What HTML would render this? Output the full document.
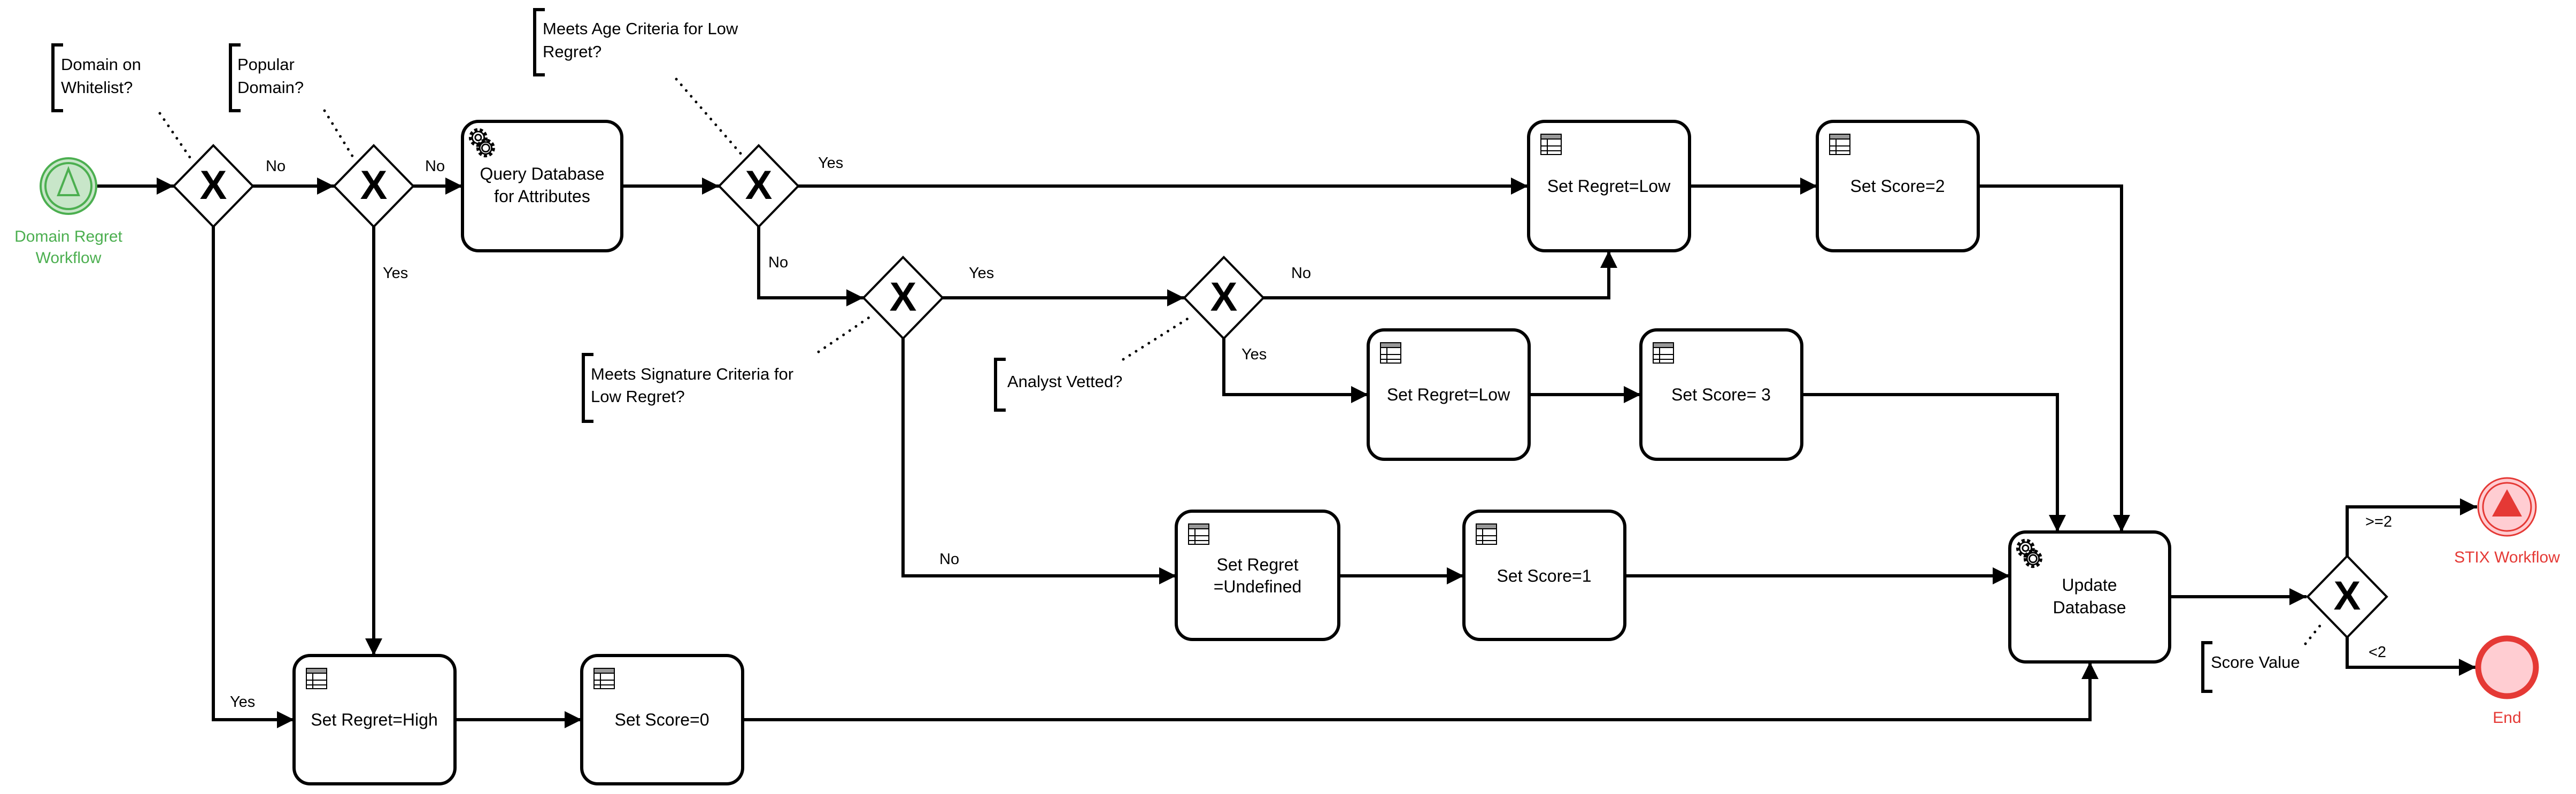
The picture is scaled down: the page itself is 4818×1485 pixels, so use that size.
<!DOCTYPE html>
<html><head><meta charset="utf-8"><style>
html,body{margin:0;padding:0;background:#fff;}
svg{display:block;}
text{font-family:"Liberation Sans",sans-serif;}
</style></head><body>
<svg width="4818" height="1485" viewBox="0 0 4818 1485" xmlns="http://www.w3.org/2000/svg">
<defs>
<marker id="a" markerUnits="userSpaceOnUse" markerWidth="40" markerHeight="40" refX="34" refY="20" orient="auto">
<path d="M2,4 L34,20 L2,36 Z" fill="#000"/>
</marker>
<g id="tbl">
<rect x="0" y="0" width="38" height="9" fill="#999" stroke="#000" stroke-width="2"/>
<rect x="0" y="9" width="38" height="29" fill="#fff" stroke="#000" stroke-width="2"/>
<line x1="0" y1="22" x2="38" y2="22" stroke="#000" stroke-width="2"/>
<line x1="0" y1="31" x2="38" y2="31" stroke="#000" stroke-width="2"/>
<line x1="12" y1="9" x2="12" y2="38" stroke="#000" stroke-width="2"/>
</g>
<g id="gear" fill="none" stroke="#000" stroke-width="2" transform="scale(1.4)">
<circle cx="16" cy="18" r="10" stroke-dasharray="4 3" stroke-width="5"/>
<circle cx="16" cy="18" r="8" fill="#fff"/>
<circle cx="16" cy="18" r="4"/>
<circle cx="26" cy="32" r="10" stroke-dasharray="4 3" stroke-width="5"/>
<circle cx="26" cy="32" r="8" fill="#fff"/>
<circle cx="26" cy="32" r="5"/>
</g>
<g id="dia">
<polygon points="0,-76 74,0 0,76 -74,0" fill="#fff" stroke="#000" stroke-width="4"/>
<text x="0" y="24" text-anchor="middle" font-size="76" font-weight="bold">X</text>
</g>
</defs>

<g fill="none" stroke="#000" stroke-width="6">
<line x1="182" y1="348" x2="325" y2="348" marker-end="url(#a)"/>
<line x1="473" y1="348" x2="625" y2="348" marker-end="url(#a)"/>
<line x1="773" y1="348" x2="865" y2="348" marker-end="url(#a)"/>
<line x1="1163" y1="348" x2="1345" y2="348" marker-end="url(#a)"/>
<line x1="1493" y1="348" x2="2858" y2="348" marker-end="url(#a)"/>
<line x1="3160" y1="348" x2="3399" y2="348" marker-end="url(#a)"/>
<polyline points="3700,348 3968,348 3968,995" marker-end="url(#a)"/>
<polyline points="1419,424 1419,557 1615,557" marker-end="url(#a)"/>
<line x1="1763" y1="557" x2="2215" y2="557" marker-end="url(#a)"/>
<polyline points="2363,557 3009,557 3009,469" marker-end="url(#a)"/>
<polyline points="2289,633 2289,738 2559,738" marker-end="url(#a)"/>
<line x1="2860" y1="738" x2="3069" y2="738" marker-end="url(#a)"/>
<polyline points="3370,738 3848,738 3848,995" marker-end="url(#a)"/>
<polyline points="1689,633 1689,1077 2200,1077" marker-end="url(#a)"/>
<line x1="2504" y1="1077" x2="2738" y2="1077" marker-end="url(#a)"/>
<line x1="3039" y1="1077" x2="3759" y2="1077" marker-end="url(#a)"/>
<polyline points="399,424 399,1346 550,1346" marker-end="url(#a)"/>
<line x1="699" y1="424" x2="699" y2="1226" marker-end="url(#a)"/>
<line x1="851" y1="1346" x2="1088" y2="1346" marker-end="url(#a)"/>
<polyline points="1389,1346 3909,1346 3909,1238" marker-end="url(#a)"/>
<line x1="4058" y1="1116" x2="4314" y2="1116" marker-end="url(#a)"/>
<polyline points="4390,1040 4390,948 4633,948" marker-end="url(#a)"/>
<polyline points="4390,1192 4390,1248 4631,1248" marker-end="url(#a)"/>
</g>

<g stroke="#000" stroke-width="5" stroke-linecap="round" stroke-dasharray="0.1 14" fill="none">
<line x1="299" y1="212" x2="357" y2="297"/>
<line x1="607" y1="207" x2="661" y2="295"/>
<line x1="1265" y1="148" x2="1386" y2="288"/>
<line x1="1531" y1="658" x2="1631" y2="590"/>
<line x1="2101" y1="672" x2="2231" y2="590"/>
<line x1="4312" y1="1204" x2="4345" y2="1163"/>
</g>

<g fill="none" stroke="#000" stroke-width="6">
<polyline points="118,84 99,84 99,207 118,207"/>
<polyline points="450,84 431,84 431,207 450,207"/>
<polyline points="1019,18 1000,18 1000,140 1019,140"/>
<polyline points="1110,663 1091,663 1091,788 1110,788"/>
<polyline points="1881,672 1862,672 1862,767 1881,767"/>
<polyline points="4138,1202 4120,1202 4120,1293 4138,1293"/>
</g>
<g font-size="31" fill="#000">
<text x="114" y="131">Domain on</text><text x="114" y="174">Whitelist?</text>
<text x="444" y="131">Popular</text><text x="444" y="174">Domain?</text>
<text x="1015" y="64">Meets Age Criteria for Low</text><text x="1015" y="107">Regret?</text>
<text x="1105" y="710">Meets Signature Criteria for</text><text x="1105" y="752">Low Regret?</text>
<text x="1884" y="724">Analyst Vetted?</text>
<text x="4135" y="1249">Score Value</text>
</g>

<g font-size="29" fill="#000">
<text x="497" y="320">No</text>
<text x="795" y="320">No</text>
<text x="716" y="520">Yes</text>
<text x="1530" y="314">Yes</text>
<text x="1437" y="500">No</text>
<text x="1812" y="520">Yes</text>
<text x="2415" y="520">No</text>
<text x="2322" y="672">Yes</text>
<text x="1757" y="1055">No</text>
<text x="430" y="1322">Yes</text>
<text x="4424" y="985">&gt;=2</text>
<text x="4430" y="1229">&lt;2</text>
</g>

<use href="#dia" x="399" y="348"/>
<use href="#dia" x="699" y="348"/>
<use href="#dia" x="1419" y="348"/>
<use href="#dia" x="1689" y="557"/>
<use href="#dia" x="2289" y="557"/>
<use href="#dia" x="4390" y="1116"/>

<g fill="#fff" stroke="#000" stroke-width="6">
<rect x="865" y="227" width="298" height="242" rx="30"/>
<rect x="2859" y="227" width="301" height="242" rx="30"/>
<rect x="3399" y="227" width="301" height="242" rx="30"/>
<rect x="2559" y="617" width="301" height="242" rx="30"/>
<rect x="3069" y="617" width="301" height="242" rx="30"/>
<rect x="2200" y="956" width="304" height="240" rx="30"/>
<rect x="2738" y="956" width="301" height="240" rx="30"/>
<rect x="550" y="1226" width="301" height="240" rx="30"/>
<rect x="1088" y="1226" width="301" height="240" rx="30"/>
<rect x="3759" y="995" width="299" height="243" rx="30"/>
</g>
<use href="#gear" x="872" y="232"/>
<use href="#gear" x="3766" y="1000"/>
<use href="#tbl" x="2882" y="251"/>
<use href="#tbl" x="3422" y="251"/>
<use href="#tbl" x="2582" y="641"/>
<use href="#tbl" x="3092" y="641"/>
<use href="#tbl" x="2223" y="980"/>
<use href="#tbl" x="2761" y="980"/>
<use href="#tbl" x="573" y="1250"/>
<use href="#tbl" x="1111" y="1250"/>

<g font-size="32" fill="#000" text-anchor="middle">
<text x="1014" y="336">Query Database</text><text x="1014" y="378">for Attributes</text>
<text x="3009" y="359">Set Regret=Low</text>
<text x="3549" y="359">Set Score=2</text>
<text x="2709" y="749">Set Regret=Low</text>
<text x="3219" y="749">Set Score= 3</text>
<text x="2352" y="1067">Set Regret</text><text x="2352" y="1108">=Undefined</text>
<text x="2888" y="1088">Set Score=1</text>
<text x="700" y="1357">Set Regret=High</text>
<text x="1238" y="1357">Set Score=0</text>
<text x="3908" y="1105">Update</text><text x="3908" y="1147">Database</text>
</g>

<circle cx="128" cy="348" r="52" fill="#c8e6c9" stroke="#4caf50" stroke-width="4"/>
<circle cx="128" cy="348" r="43" fill="none" stroke="#4caf50" stroke-width="4"/>
<polygon points="128,316 109,365 147,365" fill="none" stroke="#4caf50" stroke-width="4"/>
<g font-size="30" fill="#4caf50" text-anchor="middle">
<text x="128" y="452">Domain Regret</text><text x="128" y="492">Workflow</text>
</g>
<circle cx="4689" cy="948" r="54" fill="#ffcdd2" stroke="#e53935" stroke-width="3"/>
<circle cx="4689" cy="948" r="45" fill="none" stroke="#e53935" stroke-width="3"/>
<polygon points="4689,915 4661,966 4717,966" fill="#e53935"/>
<text x="4689" y="1052" font-size="30" fill="#e53935" text-anchor="middle">STIX Workflow</text>
<circle cx="4689" cy="1248" r="54" fill="#ffcdd2" stroke="#e53935" stroke-width="11"/>
<text x="4689" y="1352" font-size="30" fill="#e53935" text-anchor="middle">End</text>
</svg>
</body></html>
